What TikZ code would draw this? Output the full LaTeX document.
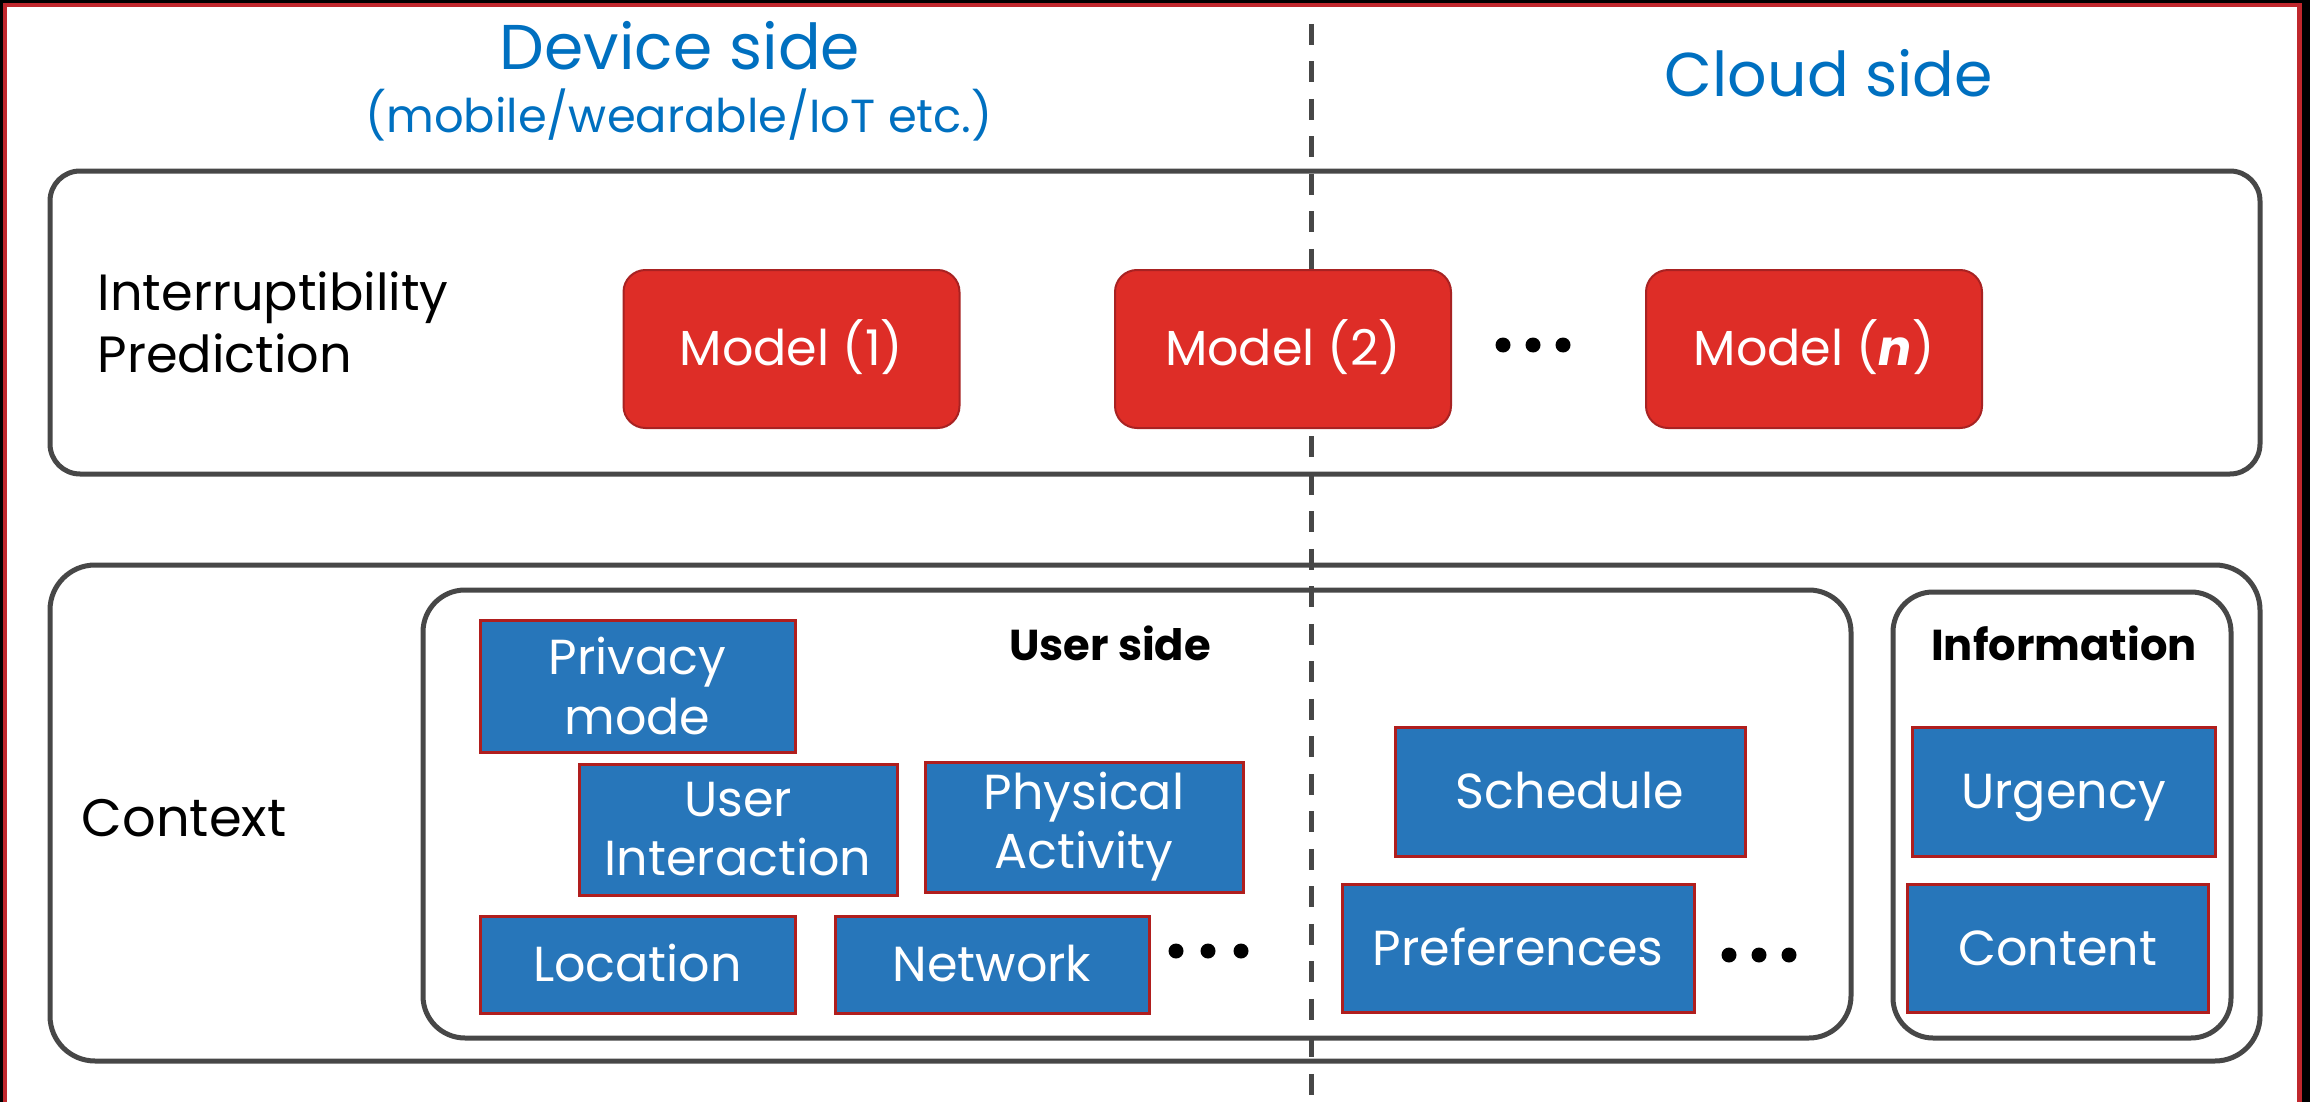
\documentclass[tikz,border=0pt]{standalone}
\usepackage{fontspec}
\setmainfont{Poppins}
\usetikzlibrary{positioning}

\definecolor{titleblue}{HTML}{0070C0}
\definecolor{modelred}{HTML}{DE2D27}
\definecolor{modeledge}{HTML}{A82222}
\definecolor{ctxblue}{HTML}{2776BA}
\definecolor{ctxedge}{HTML}{B01E1E}
\definecolor{panelgray}{HTML}{474747}
\definecolor{framered}{HTML}{C0272D}

\begin{document}
\begin{tikzpicture}[x=0.1mm, y=-0.1mm,
    panel/.style={draw=panelgray, line width=0.5mm, inner sep=0pt},
    model/.style={draw=modeledge, line width=0.2mm, fill=modelred, rounded corners=2.2mm,
      minimum width=33.6mm, minimum height=15.8mm, inner sep=0pt, text=white,
      text height=3.4mm, text depth=0pt, font=\fontsize{14}{16.8}\selectfont},
    ctx/.style={draw=ctxedge, line width=0.3mm, fill=ctxblue, text=white, align=center,
      inner sep=0pt, font=\fontsize{14}{16.8}\selectfont},
    oneline/.style={text height=3.4mm, text depth=0pt},
    heading/.style={text=titleblue, anchor=base, inner sep=0pt},
    sidetext/.style={anchor=base west, inner sep=0pt, align=left},
    grouptitle/.style={anchor=base, inner sep=0pt, font=\fontsize{12.3}{15}\selectfont\bfseries},
    dotmark/.style={circle, fill=black, inner sep=0pt, minimum size=1.5mm},
    divider/.style={draw=panelgray, line width=0.5mm, dash pattern=on 2.1mm off 1.65mm}]

  % frame
  \useasboundingbox (0,0) rectangle (2310,1102);
  \fill[black] (0,0) rectangle (2310,1102);
  \fill[framered] (3,3) rectangle (2302,1110);
  \fill[white] (7,7) rectangle (2297,1110);

  % headings
  \node[heading, font=\fontsize{18}{22}\selectfont] (devtitle) at (680,70) {Device side};
  \node[heading, font=\fontsize{13.2}{16}\selectfont] (devsub) at (679,133) {(mobile/wearable/IoT etc.)};
  \node[heading, font=\fontsize{17.6}{22}\selectfont] (cloudtitle) at (1829,97) {Cloud side};

  % panels
  \node[panel, rounded corners=3mm, minimum width=221mm, minimum height=30.3mm] (predbox) at (1155,322.5) {};
  \node[panel, rounded corners=4.5mm, minimum width=221mm, minimum height=49.6mm] (ctxbox) at (1155,813) {};
  \node[panel, rounded corners=4.2mm, minimum width=142.8mm, minimum height=44.8mm] (userbox) at (1137,814) {};
  \node[panel, rounded corners=4mm, minimum width=33.8mm, minimum height=44.6mm] (infobox) at (2062,815) {};

  \coordinate (divtop) at (1311,24);
  \coordinate (divbot) at (1311,1102);
  \draw[divider] (divtop) -- (divbot);

  % prediction row
  \node[sidetext, font=\fontsize{14.5}{17.6}\selectfont] (predlabel) at (97,372) {Interruptibility\\Prediction};
  \node[model] (model1) at (791.5,349) {Model (1)};
  \node[model] (model2) at (1283,349) {Model (2)};
  \node[model] (modeln) at (1814,349) {Model (\textbf{\textit{n}})};
  \foreach \i/\x in {1/1503,2/1533,3/1563}
    \node[dotmark] (mdot\i) at (\x,345) {};

  % context row
  \node[sidetext, font=\fontsize{15}{17.6}\selectfont] (ctxlabel) at (81,836) {Context};
  \node[grouptitle] (usertitle) at (1110,660) {User side};
  \node[grouptitle] (infotitle) at (2064,660) {Information};

  \node[ctx, minimum width=31.5mm, minimum height=13.2mm] (privacy) at (637.5,686) {Privacy\\mode};
  \node[ctx, minimum width=31.8mm, minimum height=13.1mm] (interaction) at (738,829.5) {User\\Interaction};
  \node[ctx, minimum width=31.8mm, minimum height=13mm] (activity) at (1084,827) {Physical\\Activity};
  \node[ctx, oneline, minimum width=31.5mm, minimum height=9.7mm] (location) at (637.5,964.5) {Location};
  \node[ctx, oneline, minimum width=31.4mm, minimum height=9.7mm] (network) at (992,964.5) {Network};
  \foreach \i/\x in {1/1176,2/1208,3/1241}
    \node[dotmark] (udot\i) at (\x,951) {};

  \node[ctx, oneline, minimum width=35mm, minimum height=12.9mm] (schedule) at (1570,791.5) {Schedule};
  \node[ctx, oneline, minimum width=35.2mm, minimum height=12.8mm] (preferences) at (1518,948) {Preferences};
  \foreach \i/\x in {1/1729,2/1759,3/1789}
    \node[dotmark] (cdot\i) at (\x,955) {};

  \node[ctx, oneline, minimum width=30.3mm, minimum height=12.9mm] (urgency) at (2063.5,791.5) {Urgency};
  \node[ctx, oneline, minimum width=30.1mm, minimum height=12.8mm] (content) at (2057.5,948) {Content};

\end{tikzpicture}
\end{document}
